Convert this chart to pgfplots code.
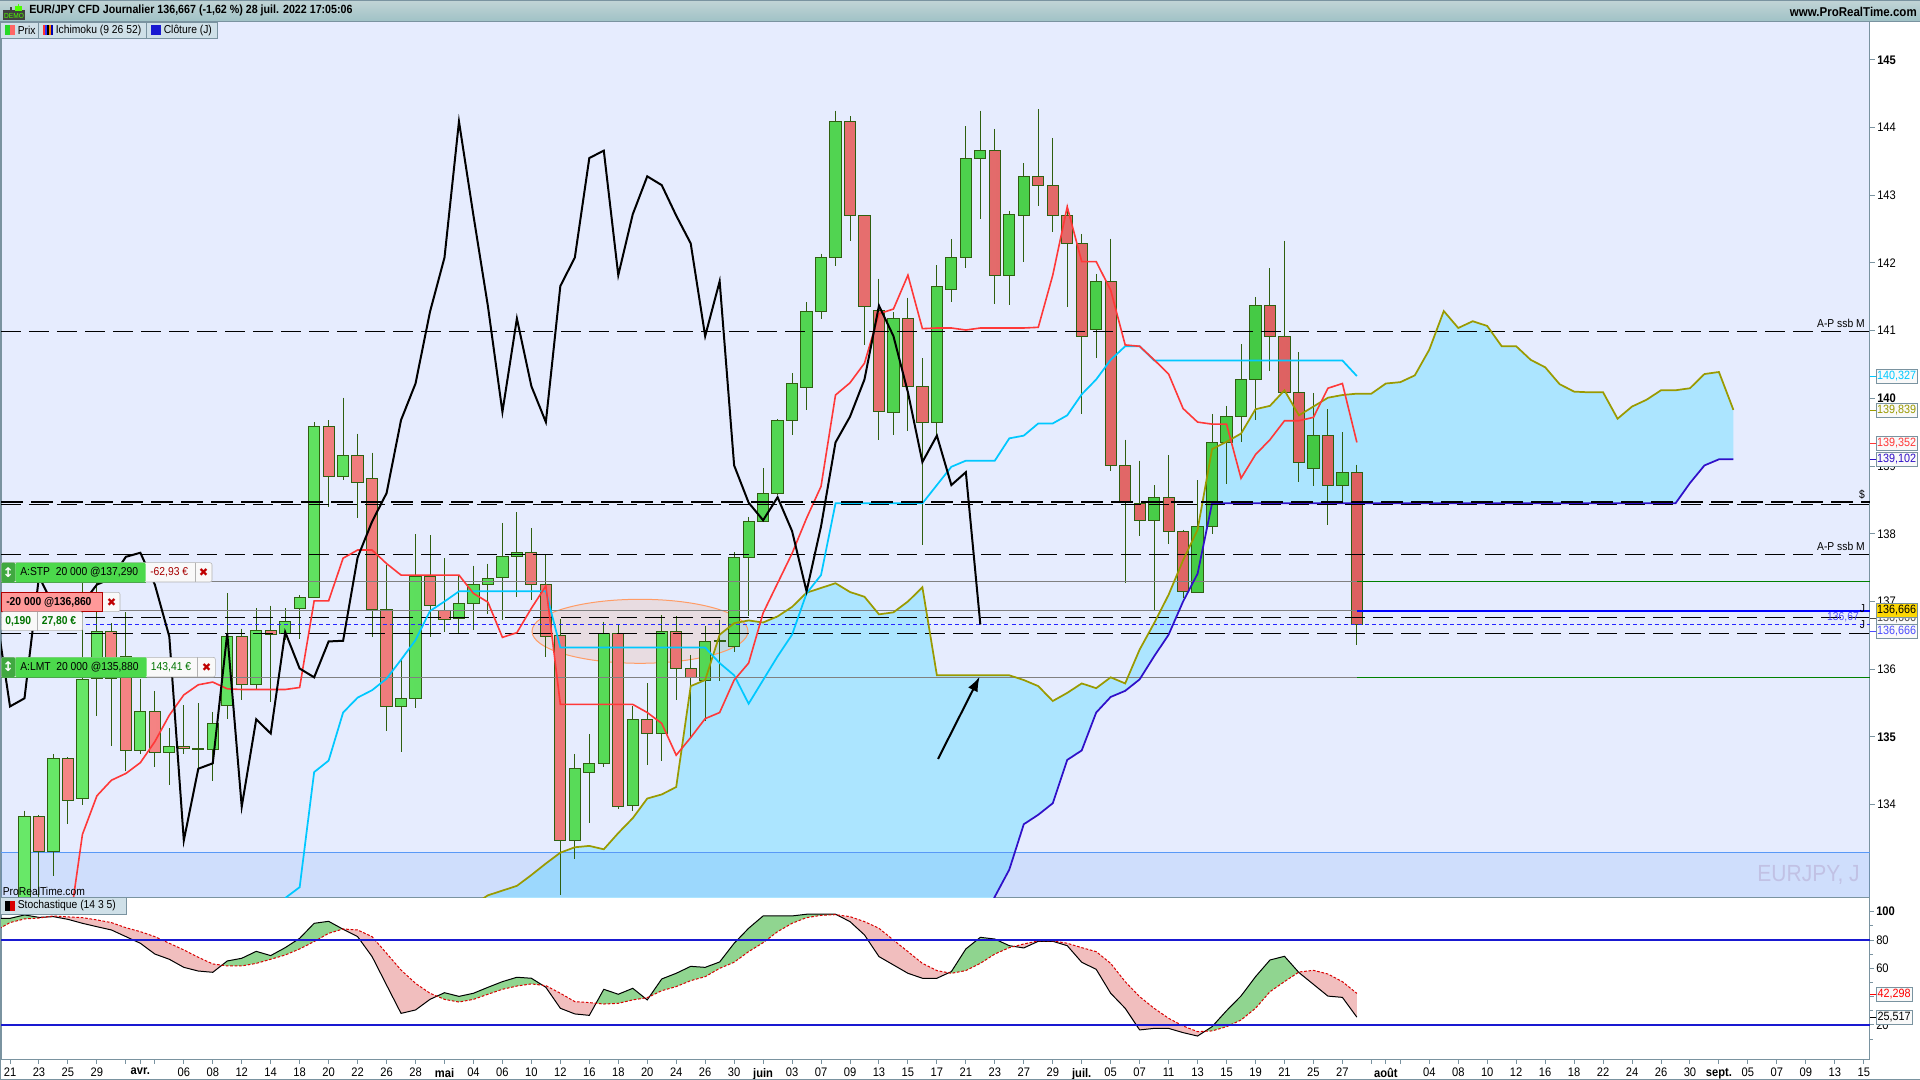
\documentclass[border=0pt]{standalone}
\usepackage{fontspec}
\setmainfont[FakeStretch=0.9]{Liberation Sans}
\newfontfamily\dvu{DejaVu Sans}
\usepackage{pgfplots}
\usepackage{pgfplotstable}
\pgfplotsset{compat=1.18}
\usepgfplotslibrary{fillbetween}
\usetikzlibrary{arrows.meta}
\definecolor{pbg}{HTML}{E6ECFE}
\definecolor{frame}{HTML}{7A93A0}
\definecolor{wick}{HTML}{2F5F10}
\definecolor{gl}{HTML}{68E868}
\definecolor{gr}{HTML}{42C842}
\definecolor{rl}{HTML}{F68686}
\definecolor{rr}{HTML}{DC6060}
\definecolor{cloud}{HTML}{ACE5FF}
\definecolor{bandc}{RGB}{46,127,245}
\definecolor{ellc}{RGB}{237,186,161}
\definecolor{tenk}{HTML}{FF3838}
\definecolor{kij}{HTML}{00C8FF}
\definecolor{oli}{HTML}{9A9A00}
\definecolor{ssbc}{HTML}{3010C8}
\definecolor{stog}{HTML}{90D590}
\definecolor{stor}{HTML}{F1BEBE}
\definecolor{btn}{HTML}{CFE0E8}
\newcommand\ft{\fontsize{8.6}{10}\selectfont}
\newcommand\fb{\fontsize{9.3}{10}\selectfont}
\newcommand\fv{\fontsize{9}{10}\selectfont}
\newcommand\xmk{{\dvu\fontsize{8.5}{9}\selectfont ✖}}

% i top bot hi low
\pgfplotstableread[row sep=\\]{
i top bot hi low\\
0 133.82 132.00 133.91 132.00\\ 2 134.68 133.31 134.75 132.95\\ 4 135.85 134.09 137.56 133.99\\ 5 136.55 135.86 137.37 135.31\\
8 135.37 134.80 135.86 134.75\\ 10 134.86 134.77 135.13 134.29\\ 12 134.83 134.81 135.50 134.54\\ 13 135.20 134.82 135.37 134.35\\
14 136.48 135.46 137.12 135.26\\ 16 136.57 135.78 136.90 135.70\\ 18 136.70 136.53 136.90 136.43\\ 19 137.06 136.89 137.09 136.45\\
20 139.58 137.06 139.65 137.06\\ 22 139.16 138.85 140.01 138.80\\ 26 135.57 135.45 136.14 134.77\\ 27 137.37 135.57 137.99 135.43\\
30 136.97 136.75 137.37 136.53\\ 31 137.25 136.97 137.53 136.58\\ 32 137.34 137.25 137.56 136.82\\ 33 137.66 137.36 138.16 136.73\\
34 137.72 137.67 138.32 137.06\\ 38 134.53 133.47 134.75 133.20\\ 39 134.61 134.48 135.04 133.73\\ 40 136.53 134.61 136.69 134.56\\
42 135.26 133.99 135.46 133.91\\ 44 136.55 135.05 136.80 134.65\\ 47 136.41 135.84 136.64 135.23\\ 48 136.42 136.41 136.73 135.83\\
49 137.65 136.33 137.73 136.26\\ 50 138.18 137.65 138.25 136.78\\ 51 138.60 138.18 138.97 138.18\\ 52 139.68 138.60 139.69 138.57\\
53 140.22 139.68 140.37 139.46\\ 54 141.28 140.16 141.42 139.83\\ 55 142.08 141.28 142.14 141.17\\ 56 144.09 142.08 144.25 141.96\\
60 141.18 139.79 141.27 139.46\\ 63 141.66 139.65 141.97 139.46\\ 64 142.08 141.61 142.35 141.43\\ 65 143.55 142.08 144.02 141.93\\
66 143.66 143.55 144.25 142.65\\ 68 142.72 141.82 142.77 141.38\\ 69 143.28 142.70 143.47 142.01\\ 74 141.73 141.02 141.84 140.60\\
78 138.54 138.20 138.72 136.86\\ 81 138.11 137.14 138.79 137.14\\ 82 139.35 138.11 139.77 137.99\\ 83 139.73 139.35 139.89 138.74\\
84 140.28 139.73 140.80 139.36\\ 85 141.37 140.28 141.50 139.68\\ 89 139.45 138.97 140.08 138.71\\ 91 138.91 138.72 139.50 138.44\\
}\GreenC
\pgfplotstableread[row sep=\\]{
i top bot hi low\\
1 133.82 133.31 133.85 132.00\\ 3 134.68 134.06 134.70 133.71\\ 6 136.55 135.86 136.68 134.87\\ 7 136.19 134.80 136.84 134.50\\
9 135.37 134.77 135.68 134.56\\ 11 134.86 134.83 135.47 134.75\\ 15 136.48 135.78 136.60 135.54\\ 17 136.57 136.52 136.94 135.51\\
21 139.58 138.85 139.68 138.39\\ 23 139.16 138.76 139.48 138.24\\ 24 138.81 136.88 139.20 136.48\\ 25 136.88 135.45 137.54 135.09\\
28 137.37 136.94 137.98 136.48\\ 29 136.87 136.74 137.64 136.55\\ 35 137.72 137.25 138.08 137.02\\ 36 137.25 136.48 137.70 136.18\\
37 136.50 133.47 136.74 132.66\\ 41 136.53 133.97 136.65 133.94\\ 43 135.26 135.05 135.79 134.58\\ 45 136.55 136.01 136.78 135.54\\
46 136.01 135.88 136.21 135.00\\ 57 144.09 142.70 144.17 142.33\\ 58 142.70 141.36 142.70 140.79\\ 59 141.30 139.80 141.77 139.38\\
61 141.18 140.18 141.49 139.52\\ 62 140.18 139.65 140.59 137.83\\ 67 143.66 141.82 143.98 141.39\\ 70 143.28 143.15 144.27 142.84\\
71 143.15 142.70 143.85 142.46\\ 72 142.70 142.29 142.86 141.35\\ 73 142.29 140.92 142.43 139.77\\ 75 141.73 139.01 142.36 138.93\\
76 139.01 138.46 139.39 137.27\\ 77 138.45 138.20 139.08 137.97\\ 79 138.54 138.04 139.16 137.85\\ 80 138.04 137.15 138.06 137.05\\
86 141.37 140.92 141.92 140.40\\ 87 140.92 140.09 142.33 140.09\\ 88 140.09 139.06 140.68 138.77\\ 90 139.45 138.72 139.84 138.13\\
92 138.91 136.66 139.02 136.36\\
}\RedC
\pgfplotstableread[row sep=\\]{
i v\\ -2 136.88\\ -1 135.45\\ 0 135.57\\ 1 137.37\\ 2 136.94\\ 3 136.74\\ 4 136.97\\ 5 137.25\\ 6 137.34\\ 7 137.66\\ 8 137.72\\ 9 137.25\\
10 136.48\\ 11 133.47\\ 12 134.53\\ 13 134.61\\ 14 136.53\\ 15 133.97\\ 16 135.26\\ 17 135.05\\ 18 136.55\\ 19 136.01\\ 20 135.88\\
21 136.41\\ 22 136.42\\ 23 137.65\\ 24 138.18\\ 25 138.60\\ 26 139.68\\ 27 140.22\\ 28 141.28\\ 29 142.08\\ 30 144.09\\ 31 142.70\\
32 141.36\\ 33 139.80\\ 34 141.18\\ 35 140.18\\ 36 139.65\\ 37 141.66\\ 38 142.08\\ 39 143.55\\ 40 143.66\\ 41 141.82\\ 42 142.72\\
43 143.28\\ 44 143.15\\ 45 142.70\\ 46 142.29\\ 47 140.92\\ 48 141.73\\ 49 139.01\\ 50 138.46\\ 51 138.20\\ 52 138.54\\ 53 138.04\\
54 137.15\\ 55 138.11\\ 56 139.35\\ 57 139.73\\ 58 140.28\\ 59 141.37\\ 60 140.92\\ 61 140.09\\ 62 139.06\\ 63 139.45\\ 64 138.72\\
65 138.91\\ 66 136.66\\
}\Chikou
\pgfplotstableread[row sep=\\]{
i v\\ 3 132.05\\ 4 133.56\\ 5 134.13\\ 6 134.36\\ 7 134.46\\ 8 134.62\\ 9 134.93\\ 10 135.32\\ 11 135.62\\ 12 135.77\\ 13 135.81\\ 14 135.71\\
15 135.70\\ 16 135.70\\ 17 135.70\\ 18 135.70\\ 19 135.73\\ 20 137.01\\ 21 137.01\\ 22 137.64\\ 23 137.76\\ 24 137.76\\ 25 137.56\\
26 137.39\\ 27 137.39\\ 28 137.39\\ 29 137.39\\ 30 137.39\\ 31 137.12\\ 32 136.99\\ 33 136.47\\ 34 136.54\\ 35 136.90\\ 36 137.23\\
37 135.48\\ 38 135.48\\ 39 135.48\\ 40 135.48\\ 41 135.48\\ 42 135.48\\ 43 135.36\\ 44 135.20\\ 45 134.73\\ 46 134.99\\ 47 135.27\\
48 135.36\\ 49 135.84\\ 50 136.09\\ 51 136.83\\ 52 137.27\\ 53 137.71\\ 54 138.23\\ 55 138.70\\ 56 140.05\\ 57 140.23\\ 58 140.52\\
59 141.25\\ 60 141.32\\ 61 141.82\\ 62 141.03\\ 63 141.04\\ 64 141.04\\ 65 141.01\\ 66 141.04\\ 67 141.04\\ 68 141.04\\ 69 141.04\\
70 141.05\\ 71 141.82\\ 72 142.83\\ 73 142.02\\ 74 142.02\\ 75 141.60\\ 76 140.79\\ 77 140.77\\ 78 140.57\\ 79 140.36\\ 80 139.85\\
81 139.65\\ 82 139.62\\ 83 139.62\\ 84 138.82\\ 85 139.17\\ 86 139.39\\ 87 139.67\\ 88 139.67\\ 89 139.72\\ 90 140.15\\ 91 140.22\\
92 139.35\\
}\Tenkan
\pgfplotstableread[row sep=\\]{
i v\\ 18 132.62\\ 19 132.78\\ 20 134.48\\ 21 134.65\\ 22 135.36\\ 23 135.58\\ 24 135.69\\ 25 135.86\\ 26 136.14\\ 27 136.43\\ 28 136.86\\
29 137.00\\ 30 137.15\\ 36 137.15\\ 37 136.32\\ 47 136.32\\ 48 136.09\\ 49 135.91\\ 50 135.49\\ 51 135.84\\ 52 136.19\\ 53 136.51\\
54 137.12\\ 55 137.39\\ 56 138.45\\ 62 138.45\\ 63 138.72\\ 64 138.99\\ 65 139.08\\ 67 139.08\\ 68 139.41\\ 69 139.45\\ 70 139.63\\
71 139.63\\ 72 139.75\\ 73 140.06\\ 74 140.28\\ 75 140.57\\ 76 140.77\\ 77 140.77\\ 78 140.56\\ 91 140.56\\ 92 140.33\\
}\Kijun
\pgfplotstableread[row sep=\\]{
i v\\ 31 132.52\\ 32 132.66\\ 33 132.73\\ 34 132.80\\ 35 132.96\\ 36 133.13\\ 37 133.29\\ 38 133.37\\ 39 133.39\\ 40 133.34\\ 41 133.58\\
42 133.80\\ 43 134.09\\ 44 134.15\\ 45 134.26\\ 46 135.75\\ 47 135.84\\ 48 136.51\\ 49 136.68\\ 50 136.72\\ 51 136.69\\ 52 136.78\\
53 136.92\\ 54 137.13\\ 55 137.20\\ 56 137.27\\ 57 137.14\\ 58 137.07\\ 59 136.81\\ 60 136.84\\ 61 137.00\\ 62 137.21\\ 63 135.91\\
68 135.91\\ 69 135.84\\ 70 135.75\\ 71 135.53\\ 72 135.65\\ 73 135.79\\ 74 135.72\\ 75 135.88\\ 76 135.79\\ 77 136.29\\ 78 136.68\\
79 137.10\\ 80 137.61\\ 81 138.06\\ 82 139.25\\ 83 139.36\\ 84 139.48\\ 85 139.84\\ 86 139.89\\ 87 140.12\\ 88 139.75\\ 89 139.88\\
90 140.01\\ 91 140.05\\ 92 140.07\\ 93 140.07\\ 94 140.22\\ 95 140.24\\ 96 140.34\\ 97 140.72\\ 98 141.29\\ 99 141.04\\ 100 141.14\\
101 141.07\\ 102 140.77\\ 103 140.77\\ 104 140.57\\ 105 140.46\\ 106 140.21\\ 107 140.10\\ 108 140.09\\ 109 140.09\\ 110 139.70\\
111 139.88\\ 112 139.98\\ 113 140.12\\ 114 140.12\\ 115 140.15\\ 116 140.36\\ 117 140.39\\ 118 139.83\\
}\Ssa
\pgfplotstableread[row sep=\\]{
i v\\ 31 132.00\\ 66 132.22\\ 67 132.64\\ 68 133.04\\ 69 133.71\\ 70 133.85\\ 71 134.02\\ 72 134.66\\ 73 134.80\\ 74 135.36\\ 75 135.59\\
76 135.68\\ 77 135.85\\ 78 136.19\\ 79 136.51\\ 80 137.00\\ 81 137.41\\ 82 138.45\\ 114 138.45\\ 115 138.75\\ 116 139.01\\ 117 139.10\\
118 139.10\\
}\Ssb
\pgfplotstableread[row sep=\\]{
i k d\\ -2 95.3 86.6\\ -1 95.3 92.3\\ 0 97.7 94.9\\ 1 96.0 95.5\\ 2 96.5 97.0\\ 3 94.6 96.3\\ 4 91.8 95.8\\ 5 89.4 94.2\\ 6 87.1 92.3\\
7 82.4 88.7\\ 8 77.7 85.9\\ 9 70.1 82.4\\ 10 66.4 77.7\\ 11 60.7 73.0\\ 12 58.1 67.8\\ 13 57.2 63.1\\ 14 65.2 61.7\\ 15 67.1 61.7\\
16 72.0 63.5\\ 17 69.0 66.4\\ 18 74.6 69.4\\ 19 81.2 73.7\\ 20 91.8 78.9\\ 21 93.2 84.7\\ 22 87.6 87.8\\ 23 82.4 87.1\\ 24 68.3 82.4\\
25 48.2 70.6\\ 26 28.2 58.8\\ 27 30.6 49.4\\ 28 38.1 42.4\\ 29 42.8 38.1\\ 30 40.2 36.2\\ 31 42.4 38.1\\ 32 46.6 41.7\\ 33 50.6 45.2\\
34 53.7 47.5\\ 35 53.0 49.0\\ 36 46.6 47.8\\ 37 31.8 42.4\\ 38 27.8 36.5\\ 39 26.8 35.8\\ 40 45.2 34.8\\ 41 41.7 35.3\\ 42 45.9 37.7\\
43 37.7 39.3\\ 44 52.5 44.2\\ 45 56.5 47.1\\ 46 61.4 51.3\\ 47 60.7 54.1\\ 48 64.5 60.0\\ 49 77.7 64.3\\ 50 88.3 71.8\\ 51 97.0 78.1\\
52 97.0 85.9\\ 53 97.0 91.8\\ 54 98.2 95.8\\ 55 98.2 97.4\\ 56 98.2 97.9\\ 57 93.0 96.5\\ 58 83.6 93.0\\ 59 68.3 88.3\\ 60 62.4 80.0\\
61 56.5 71.8\\ 62 53.0 63.5\\ 63 53.0 58.4\\ 64 57.7 56.5\\ 65 73.7 58.4\\ 66 81.9 63.5\\ 67 80.7 70.1\\ 68 76.0 74.6\\ 69 74.4 77.2\\
70 79.1 79.4\\ 71 79.1 79.4\\ 72 76.0 77.7\\ 73 64.3 74.6\\ 74 59.3 71.8\\ 75 42.4 63.5\\ 76 31.8 50.6\\ 77 16.5 40.0\\ 78 17.6 31.8\\
79 17.6 24.7\\ 80 14.6 19.3\\ 81 12.2 15.3\\ 82 18.8 15.8\\ 83 30.1 18.8\\ 84 40.5 23.5\\ 85 54.1 31.8\\ 86 65.9 43.5\\ 87 68.5 50.6\\
88 57.0 57.4\\ 89 48.7 58.6\\ 90 40.4 56.0\\ 91 39.5 50.6\\ 92 25.5 42.3\\
}\Sto

\pgfplotsset{
 mainbase/.style={scale only axis,width=1401.75pt,height=656.625pt,at={(0.75pt,136.875pt)},anchor=south west,
   xmin=-1.623,xmax=127.43,ymin=132.628,ymax=145.56},
 dashA/.style={black,line width=0.75pt,dash pattern=on 15pt off 6pt},
}
\begin{document}
\begin{tikzpicture}

% ---- price panel: background, cloud, band, ellipse
\begin{axis}[mainbase,axis background/.style={fill=pbg},
  axis line style={draw=frame,line width=0.75pt},
  xtick=\empty,
  ytick={134,135,136,137,138,139,140,141,142,143,144,145},
  yticklabels={134,\textbf{135},136,137,138,139,\textbf{140},141,142,143,144,\textbf{145}},
  ytick pos=right,yticklabel pos=right,tick align=outside,
  major tick length=3.75pt,
  tick style={draw=frame,line width=0.75pt},
  yticklabel style={font=\fb,inner sep=0pt,xshift=1.5pt,text=black}]
\addplot[name path=ssa,draw=none] table[x=i,y=v]{\Ssa};
\addplot[name path=ssb,draw=none] table[x=i,y=v]{\Ssb};
\addplot[fill=cloud,draw=none] fill between[of=ssa and ssb];
\draw[draw=orange!70!red!60,fill=ellc,fill opacity=0.3,line width=0.75pt] (axis cs:42.5,136.56) ellipse [x radius=81pt,y radius=24pt];
\addplot[draw=none,fill=bandc,fill opacity=0.12] coordinates {(-1.623,132.628)(127.43,132.628)(127.43,133.295)(-1.623,133.295)} -- cycle;
\addplot[draw=bandc!80,line width=0.75pt] coordinates {(-1.623,133.295)(127.43,133.295)};
\end{axis}

% ---- wicks
\begin{axis}[mainbase,hide axis]
\addplot[draw=none,mark=none,error bars/.cd,y dir=minus,y explicit,error mark=none,error bar style={draw=wick,line width=0.75pt}]
  table[x=i,y=hi,y error minus expr=\thisrow{hi}-\thisrow{low}]{\GreenC};
\addplot[draw=none,mark=none,error bars/.cd,y dir=minus,y explicit,error mark=none,error bar style={draw=wick,line width=0.75pt}]
  table[x=i,y=hi,y error minus expr=\thisrow{hi}-\thisrow{low}]{\RedC};
\end{axis}

% ---- green bodies
\begin{axis}[mainbase,hide axis,ybar stacked,bar width=8.4pt]
\addplot[draw=none,fill=none] table[x=i,y=bot]{\GreenC};
\addplot[draw=wick,line width=0.75pt,left color=gl,right color=gr] table[x=i,y expr=\thisrow{top}-\thisrow{bot}]{\GreenC};
\end{axis}
% ---- red bodies
\begin{axis}[mainbase,hide axis,ybar stacked,bar width=8.4pt]
\addplot[draw=none,fill=none] table[x=i,y=bot]{\RedC};
\addplot[draw=wick,line width=0.75pt,left color=rl,right color=rr] table[x=i,y expr=\thisrow{top}-\thisrow{bot}]{\RedC};
\end{axis}

% ---- lines
\begin{axis}[mainbase,hide axis]
\addplot[gray,line width=0.75pt] coordinates {(-1.623,137.29)(92,137.29)};
\addplot[gray,line width=0.75pt] coordinates {(-1.623,136.86)(92,136.86)};
\addplot[gray,line width=0.75pt] coordinates {(-1.623,135.88)(92,135.88)};
\addplot[green!50!black,line width=0.75pt] coordinates {(92,137.29)(127.43,137.29)};
\addplot[green!50!black,line width=0.75pt] coordinates {(92,135.88)(127.43,135.88)};
\addplot[blue,line width=1.6pt] coordinates {(92,136.86)(127.43,136.86)};
\addplot[blue!85!white,line width=0.75pt,dash pattern=on 3pt off 2.3pt] coordinates {(-1.623,136.66)(127.43,136.66)};
\addplot[dashA] coordinates {(-1.623,140.99)(127.43,140.99)};
\addplot[dashA] coordinates {(-1.623,137.70)(127.43,137.70)};
\addplot[dashA] coordinates {(-1.623,136.77)(127.43,136.77)};
\addplot[dashA] coordinates {(-1.623,136.53)(127.43,136.53)};
\addplot[ssbc,line width=1.3pt] table[x=i,y=v]{\Ssb};
\addplot[oli,line width=1.3pt] table[x=i,y=v]{\Ssa};
\addplot[kij,line width=1.3pt] table[x=i,y=v]{\Kijun};
\addplot[tenk,line width=1.2pt] table[x=i,y=v]{\Tenkan};
\addplot[black,line width=1.5pt] table[x=i,y=v]{\Chikou};
\addplot[black,line width=0.75pt,dash pattern=on 15pt off 6pt] coordinates {(-1.623,138.44)(127.43,138.44)};
\addplot[black,line width=2.2pt,dash pattern=on 16.5pt off 6pt] coordinates {(-1.623,138.47)(127.43,138.47)};
\end{axis}

% ---- stochastic panel
\begin{axis}[scale only axis,width=1401.75pt,height=121.875pt,at={(0.75pt,15pt)},anchor=south west,
  xmin=-1.623,xmax=127.43,ymin=-4.72,ymax=110.03,
  axis line style={draw=frame,line width=0.75pt},
  tick align=outside,major tick length=3pt,minor tick length=2.25pt,
  tick style={draw=frame,line width=0.75pt},
  ytick={20,40,60,80,100},yticklabels={20,40,60,80,\textbf{100}},minor ytick={10,30,50,70,90},
  ytick pos=right,yticklabel pos=right,
  yticklabel style={font=\fb,inner sep=0pt,xshift=1.5pt},
  xtick pos=bottom,
  xtick={-1,1,3,5,7,8,9,11,13,15,17,19,21,23,25,27,29,31,33,35,37,39,41,43,45,47,49,51,53,55,57,59,61,63,65,67,69,71,73,75,77,79,81,83,85,87,89,91,93,94,95,97,99,101,103,105,107,109,111,113,115,117,119,121,123,125,127},
  xticklabels={21,23,25,29,,\textbf{avr.},,06,08,12,14,18,20,22,26,28,\textbf{mai},04,06,10,12,16,18,20,24,26,30,\textbf{juin},03,07,09,13,15,17,21,23,27,29,\textbf{juil.},05,07,11,13,15,19,21,25,27,,\textbf{août},,04,08,10,12,16,18,22,24,26,30,\textbf{sept.},05,07,09,13,15},
  xticklabel style={font=\fb,inner sep=0pt,yshift=-3pt}]
\addplot[name path=K,draw=none] table[x=i,y=k]{\Sto};
\addplot[name path=D,draw=none] table[x=i,y=d]{\Sto};
\addplot[fill=stog,draw=none] fill between[of=K and D,split,every even segment/.style={fill=stog},every odd segment/.style={fill=stor}];
\addplot[black,line width=0.75pt] table[x=i,y=k]{\Sto};
\addplot[red!85!black,line width=0.75pt,dash pattern=on 2pt off 1.3pt] table[x=i,y=d]{\Sto};
\addplot[blue!80!black!90,line width=1.5pt] coordinates {(-1.623,80)(127.43,80)};
\addplot[blue!80!black!90,line width=1.5pt] coordinates {(-1.623,20)(127.43,20)};
\end{axis}

% ---- chrome and annotations, in reference pixels
\begin{scope}[shift={(0,810pt)},x=0.75pt,y=-0.75pt,font=\ft]
\draw[frame,line width=0.75pt] (0,1079.5)--(1920,1079.5);
\draw[frame,line width=0.75pt] (0.5,0)--(0.5,1080);
\shade[top color=blue!10!cyan!20!gray!40,bottom color=blue!10!cyan!25!gray!60] (0,0) rectangle (1920,21.5);
\draw[frame] (0,21.5)--(1920,21.5);
\draw[frame] (0,0.5)--(1920,0.5);
% demo icon
\fill[black!75] (3,10) rectangle (25,20);
\fill[black!75] (9.5,7) rectangle (11.5,10);
\fill[green!70!yellow] (15,6.5) rectangle (21.5,11);
\draw[green!70!yellow] (18,4)--(18,7);
\node[text=green!70!yellow,font=\fontsize{5.5}{6}\selectfont] at (14,15.5) {DEMO};
\node[anchor=west,inner sep=0pt,font=\bfseries\fontsize{8.9}{10}\selectfont] at (29,10.8) {EUR/JPY CFD Journalier 136,667 (-1,62 \%) 28 juil. 2022 17:05:06};
\node[anchor=east,inner sep=0pt,font=\bfseries\fontsize{9.6}{10}\selectfont] at (1917,12) {www.ProRealTime.com};
% legend buttons
\draw[frame,fill=btn] (0.5,22) rectangle (38.5,38.5);
\draw[frame,fill=btn] (38.5,22) rectangle (146.5,38.5);
\draw[frame,fill=btn] (146.5,22) rectangle (217.5,38.5);
\fill[green!70!gray] (5,25) rectangle (10,35);\fill[red!60!white] (10,25) rectangle (15,35);
\fill[red!80] (43,25) rectangle (45,35);\fill[blue!80] (45,25) rectangle (47,35);\fill[black] (47,25) rectangle (49,35);\fill[orange] (49,25) rectangle (51,35);\fill[blue!70!black] (51,25) rectangle (53,35);
\fill[blue!80!black!90] (151,25) rectangle (161,35);
\node[anchor=west,inner sep=0pt] at (17.5,30.5) {Prix};
\node[anchor=west,inner sep=0pt] at (55.5,30.5) {Ichimoku (9 26 52)};
\node[anchor=west,inner sep=0pt] at (163.5,30.5) {Clôture (J)};
% stochastic legend
\draw[frame,fill=btn] (0.5,897.5) rectangle (126,914);
\fill[black] (5,901) rectangle (10,911);\fill[red!85!black] (10,901) rectangle (15,911);
\node[anchor=west,inner sep=0pt] at (17.5,906) {Stochastique (14 3 5)};
% watermark and site
\node[anchor=east,inner sep=0pt,text=blue!40!gray!35,font=\fontsize{17.5}{18}\selectfont] at (1860,875) {EURJPY, J};
\node[anchor=west,inner sep=0pt] at (2.5,891.5) {ProRealTime.com};
% line labels
\node[anchor=east,inner sep=0pt] at (1865,323) {A-P ssb M};
\node[anchor=east,inner sep=0pt] at (1865,546) {A-P ssb M};
\node[inner sep=0pt] at (1862,495) {\$};
\node[inner sep=0pt] at (1862.5,609) {J};
\node[inner sep=0pt] at (1862.5,625) {J};
\node[anchor=east,inner sep=0pt,text=blue!70!white] at (1859,617) {136,67};
% arrow
\draw[black,line width=1.5pt,-{Latex[length=11pt,width=8pt]}] (938,759)--(979.6,676.7);
% order labels
\draw[black!30,fill=white!95!gray,rounded corners=1.5pt] (1.3,562.7) rectangle (212,582);
\draw[black!30] (195,562.7)--(195,582);
\fill[green!65!gray!85,rounded corners=1pt] (15.3,562.7) rectangle (145.7,582);
\draw[green!50!black!70] (1.3,582)--(145.7,582);
\fill[green!55!black!75,rounded corners=1pt] (1.3,562.7) rectangle (15.3,582);
\node[white,font=\dvu\bfseries\fontsize{10}{11}\selectfont,inner sep=0pt] at (8.3,572.4) {↕};
\node[anchor=west,inner sep=0pt] at (20,572.6) {A:STP\ \ 20 000 @137,290};
\node[anchor=west,inner sep=0pt,text=red!65!black] at (150,572.6) {-62,93 €};
\node[inner sep=0pt,text=red!75!black] at (203.5,572.6) {\xmk};
\draw[black!30,fill=white!95!gray,rounded corners=1.5pt] (1.3,592.3) rectangle (120,611.7);
\draw[red!70!black,fill=red!40!white] (1.3,592.3) rectangle (102.7,611.7);
\node[anchor=west,inner sep=0pt,font=\bfseries\ft] at (6,602.2) {-20 000 @136,860};
\node[inner sep=0pt,text=red!75!black] at (111.5,602.2) {\xmk};
\draw[black!30,fill=white!95!gray,rounded corners=1.5pt] (1.3,611.7) rectangle (82.7,630.7);
\draw[black!30] (37.3,611.7)--(37.3,630.7);
\node[anchor=west,inner sep=0pt,text=green!45!black,font=\bfseries\ft] at (5,621.2) {0,190};
\node[anchor=west,inner sep=0pt,text=green!45!black,font=\bfseries\ft] at (41.5,621.2) {27,80 €};
\draw[black!30,fill=white!95!gray,rounded corners=1.5pt] (1.3,657.3) rectangle (215.3,677);
\draw[black!30] (197.3,657.3)--(197.3,677);
\fill[green!65!gray!85,rounded corners=1pt] (15.3,657.3) rectangle (146.7,677);
\draw[green!50!black!70] (1.3,677)--(146.7,677);
\fill[green!55!black!75,rounded corners=1pt] (1.3,657.3) rectangle (15.3,677);
\node[white,font=\dvu\bfseries\fontsize{10}{11}\selectfont,inner sep=0pt] at (8.3,667) {↕};
\node[anchor=west,inner sep=0pt] at (20,667.2) {A:LMT\ \ 20 000 @135,880};
\node[anchor=west,inner sep=0pt,text=green!45!black] at (150.7,667.2) {143,41 €};
\node[inner sep=0pt,text=red!75!black] at (206.5,667.2) {\xmk};
% value boxes
\foreach \yy/\vc/\vt in {376.3/kij/140{,}327,410/oli/139{,}839,443.3/tenk/139{,}352,459/ssbc/139{,}102,618/black!70/136{,}666,631/blue!70!white/136{,}666}{
  \draw[frame,fill=white!95!gray] (1876,\yy-7) rectangle (1917,\yy+7);
  \draw[\vc] (1870,\yy)--(1876,\yy);
  \node[text=\vc,inner sep=0pt,font=\fv] at (1896.5,\yy) {\vt};
}
\draw[frame,fill=yellow!75!orange] (1876,603) rectangle (1917,617);
\node[text=black,inner sep=0pt,font=\fv] at (1896.5,610) {136,666};
\foreach \yy/\vc/\vt in {994/red/42{,}298,1017/black/25{,}517}{
  \draw[frame,fill=white!95!gray] (1876,\yy-7) rectangle (1912,\yy+7);
  \draw[\vc] (1870,\yy)--(1876,\yy);
  \node[text=\vc,inner sep=0pt,font=\fv] at (1894,\yy) {\vt};
}
\end{scope}
\pgfresetboundingbox
\path[use as bounding box] (0,0) rectangle (1440pt,810pt);
\end{tikzpicture}
\end{document}
